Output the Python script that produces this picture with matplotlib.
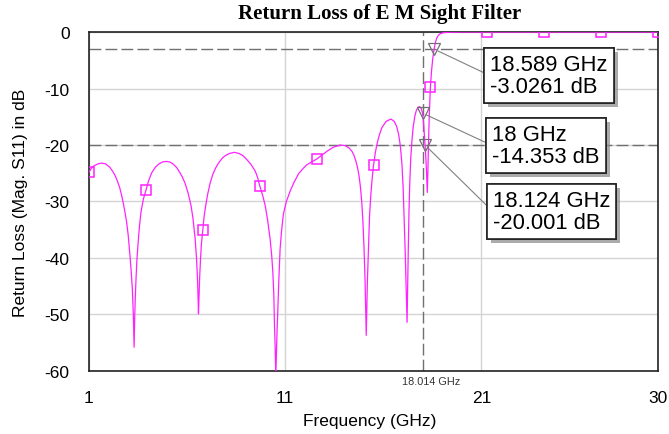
"""
Return loss (S11) of the E M sight filter, redrawn with matplotlib.
"""

import matplotlib
matplotlib.use("Agg")
import matplotlib.pyplot as plt
import matplotlib.patheffects as pe

# S11 trace (GHz, dB)
freq_ghz = [1.0, 1.1, 1.25, 1.45, 1.65, 1.85, 2.05, 2.2, 2.33, 2.45, 2.57, 2.67, 2.76, 2.85,
            2.92, 3.0, 3.09, 3.15, 3.21, 3.26, 3.30, 3.33, 3.36, 3.40, 3.44, 3.5, 3.57, 3.65,
            3.77, 3.9, 4.05, 4.2, 4.37, 4.54, 4.75, 4.96, 5.15, 5.3, 5.47, 5.6, 5.75, 5.9,
            6.05, 6.2, 6.3, 6.41, 6.48, 6.53, 6.56, 6.58, 6.61, 6.64, 6.68, 6.73, 6.8, 6.87,
            6.95, 7.05, 7.17, 7.3, 7.45, 7.6, 7.8, 7.94, 8.15, 8.41, 8.65, 8.85, 9.05, 9.25,
            9.47, 9.6, 9.7, 9.85, 9.98, 10.1, 10.23, 10.31, 10.37, 10.42, 10.45, 10.49, 10.52,
            10.55, 10.58, 10.63, 10.68, 10.74, 10.82, 10.91, 11.05, 11.26, 11.45, 11.68, 11.9,
            12.1, 12.35, 12.6, 12.87, 13.13, 13.45, 13.81, 14.05, 14.25, 14.4, 14.5, 14.6,
            14.68, 14.76, 14.83, 14.9, 14.96, 15.02, 15.07, 15.13, 15.16, 15.19, 15.22, 15.26,
            15.3, 15.36, 15.43, 15.5, 15.6, 15.68, 15.8, 15.93, 16.15, 16.39, 16.55, 16.68,
            16.78, 16.87, 16.95, 17.01, 17.07, 17.12, 17.16, 17.21, 17.24, 17.27, 17.31, 17.35,
            17.4, 17.46, 17.52, 17.6, 17.68, 17.76, 17.85, 17.93, 18.0, 18.05, 18.09, 18.124,
            18.16, 18.2, 18.24, 18.27, 18.3, 18.34, 18.4, 18.46, 18.52, 18.589, 18.65, 18.72,
            18.8, 18.9, 19.05, 19.3, 20.0, 30.0]
s11_db = [-24.8, -24.2, -23.7, -23.35, -23.2, -23.35, -23.9, -24.6, -25.4, -26.4, -27.6, -29.0,
          -30.5, -32.2, -33.7, -36.0, -39.6, -42.3, -45.5, -50.0, -55.8, -50.5, -47.0, -43.5,
          -40.5, -37.5, -34.5, -31.9, -29.6, -28.0, -26.2, -24.9, -24.0, -23.4, -23.0, -22.9,
          -23.05, -23.4, -24.0, -24.7, -25.6, -26.8, -28.5, -30.7, -33.0, -36.6, -40.0, -43.7,
          -47.0, -49.9, -46.5, -43.5, -40.5, -37.5, -35.0, -32.6, -30.7, -28.7, -26.8, -25.3,
          -24.1, -23.2, -22.3, -21.9, -21.5, -21.3, -21.5, -21.9, -22.6, -23.4, -24.6, -25.8,
          -27.2, -28.9, -30.7, -33.2, -36.6, -39.5, -42.5, -46.5, -51.4, -56.0, -61.0, -57.0,
          -53.5, -48.4, -43.5, -38.4, -35.0, -32.2, -30.1, -28.1, -26.6, -25.1, -24.2, -23.5,
          -23.0, -22.5, -21.8, -21.1, -20.4, -20.0, -20.1, -20.5, -21.1, -21.8, -22.8, -23.9,
          -25.4, -27.3, -30.0, -33.5, -38.5, -44.0, -53.7, -48.5, -44.0, -40.8, -36.0, -32.4,
          -29.0, -26.0, -23.6, -21.2, -19.8, -18.2, -16.9, -15.8, -15.4, -15.8, -16.7, -18.1,
          -20.2, -23.4, -27.5, -34.0, -39.5, -44.5, -51.4, -45.0, -39.0, -31.5, -26.5, -22.2,
          -19.2, -16.9, -15.0, -13.9, -13.35, -13.2, -13.5, -14.353, -16.0, -18.1, -20.001,
          -21.8, -24.5, -28.4, -25.0, -20.0, -15.0, -9.7, -6.8, -4.7, -3.0261, -1.9, -1.1,
          -0.6, -0.3, -0.12, -0.04, 0.0, 0.0]

# square symbols sitting on the trace
sym_ghz = [1.0, 3.9, 6.8, 9.7, 12.6, 15.5, 18.4, 21.3, 24.2, 27.1, 30.0]
sym_db = [-24.8, -28.0, -35.0, -27.2, -22.5, -23.6, -9.7, 0.0, 0.0, 0.0, 0.0]

# readout markers
mark_ghz = [18.589, 18.0, 18.124]
mark_db = [-3.0261, -14.353, -20.001]
vline_ghz = 18.014

x_ticks = [1, 11, 21, 30]
y_ticks = [0, -10, -20, -30, -40, -50, -60]

# where the readout boxes go (data coords, left/middle of text)
box_pos = [(21.45, -7.73), (21.55, -20.09), (21.58, -31.77)]

plt.rcParams['font.family'] = ['Liberation Sans', 'DejaVu Sans']
plt.rcParams['axes.unicode_minus'] = False

fig = plt.figure(figsize=(6.69, 4.35), dpi=100)
ax = fig.add_axes([0.133, 0.145, 0.8506, 0.779])

trace_col = '#ff22ff'
ax.plot(freq_ghz, s11_db, color=trace_col, lw=0.9, zorder=3)
ax.plot(sym_ghz, sym_db, ls='none', marker='s', ms=7.5, mfc='none',
        mec=trace_col, mew=1.1, zorder=4)

# dashed reference lines
dash_kw = dict(color='#707070', lw=1.0, dashes=(8.5, 3), zorder=2)
ax.axhline(mark_db[0], **dash_kw)
ax.axhline(mark_db[2], **dash_kw)
ax.axvline(vline_ghz, **dash_kw)
ax.annotate(f"{vline_ghz} GHz", xy=(vline_ghz, -60), xytext=(6.3, -3.6),
            textcoords='offset points', ha='center', va='top', fontsize=7.8,
            color='#333333', annotation_clip=False)

# triangle markers + readout boxes
for g, d, (tx, ty) in zip(mark_ghz, mark_db, box_pos):
    ax.plot([g], [d], ls='none', marker='v', ms=8, mfc='none', mec='#707070', mew=0.9,
            zorder=5)
    ann = ax.annotate(f"{g:g} GHz\n{d:g} dB", xy=(g, d), xytext=(tx, ty),
                      ha='left', va='center', fontsize=15.8, linespacing=1.06,
                      bbox=dict(boxstyle='square,pad=0.27', fc='white', ec='#222222', lw=1.2),
                      arrowprops=dict(arrowstyle='-', color='#808080', lw=0.8,
                                      relpos=(0, 0.5), shrinkA=0, shrinkB=3),
                      zorder=6)
    ann.get_bbox_patch().set_path_effects([
        pe.withSimplePatchShadow(offset=(3, -3), shadow_rgbFace='#888888', alpha=0.7),
        pe.Normal()])

ax.set_xlim(1, 30)
ax.set_ylim(-60, 0)
ax.set_xticks(x_ticks)
ax.set_yticks(y_ticks)
ax.tick_params(length=0, labelsize=12.5)
ax.tick_params(axis='x', pad=14)
ax.tick_params(axis='y', pad=14)
ax.grid(True, color='#d4d4d4', lw=1.0, zorder=1)
ax.set_axisbelow(True)
for sp in ax.spines.values():
    sp.set_color('#222222')
    sp.set_linewidth(1.2)

ax.set_xlabel("Frequency (GHz)", fontsize=12.5)
ax.xaxis.set_label_coords(0.494, -0.124)
ax.set_ylabel("Return Loss (Mag. S11) in dB", fontsize=12.5)
ax.yaxis.set_label_coords(-0.108, 0.5)

fig.text(0.568, 0.968, "Return Loss of E M Sight Filter", ha='center', va='center',
         fontsize=15, fontweight='bold', fontfamily='Liberation Serif')

fig.savefig("out.png", dpi=100)
